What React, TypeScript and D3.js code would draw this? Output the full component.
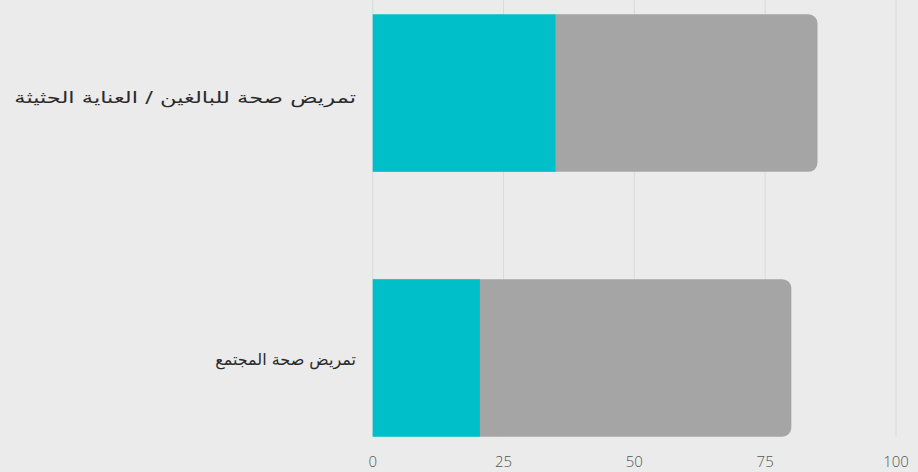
import React, { useLayoutEffect, useRef, useState } from "react";
import * as d3 from "d3";

const categories = ["تمريض صحة للبالغين / العناية الحثيثة", "تمريض صحة المجتمع"];
const firstValues = [35, 20.5];
const secondValues = [50, 59.5];
const xTicks = [0, 25, 50, 75, 100];

// label rendering widths (style only, to match the reference font metrics)
const labelStyleWidths = [342, 141];

const W = 918;
const H = 472;
const margin = { left: 372.7, right: 22, top: 0, bottom: 35 };

function roundedRight(x0: number, x1: number, y0: number, y1: number, r: number) {
  const rr = Math.min(r, (x1 - x0), (y1 - y0) / 2);
  const p = d3.path();
  p.moveTo(x0, y0);
  p.lineTo(x1 - rr, y0);
  p.arcTo(x1, y0, x1, y0 + rr, rr);
  p.lineTo(x1, y1 - rr);
  p.arcTo(x1, y1, x1 - rr, y1, rr);
  p.lineTo(x0, y1);
  p.closePath();
  return p.toString();
}

export default function App() {
  const x = d3.scaleLinear().domain([0, 100]).range([margin.left, 896]);
  const y = d3
    .scaleBand<string>()
    .domain(categories)
    .range([1, 450])
    .paddingInner(0.405)
    .paddingOuter(0.05);
  const bw = y.bandwidth();
  const plotBottom = 437;
  const refs = useRef<(SVGTextElement | null)[]>([]);
  const [scales, setScales] = useState<number[]>(categories.map(() => 1));

  useLayoutEffect(() => {
    const s = categories.map((_, i) => {
      const el = refs.current[i];
      if (!el) return 1;
      const w = el.getComputedTextLength();
      return w > 0 ? labelStyleWidths[i] / w : 1;
    });
    setScales(s);
  }, []);

  return (
    <div style={{ position: "fixed", left: 0, top: 0, width: W, height: H, background: "#ebebeb" }}>
      <svg width={W} height={H} style={{ display: "block" }}>
        <rect x={0} y={0} width={W} height={H} fill="#ebebeb" />
        {xTicks.map((t) => (
          <line
            key={"g" + t}
            x1={x(t)}
            x2={x(t)}
            y1={0}
            y2={plotBottom}
            stroke="#dadada"
            strokeWidth={1}
          />
        ))}
        {categories.map((c, i) => {
          const y0 = y(c)!;
          const y1 = y0 + bw;
          const a = firstValues[i];
          const b = secondValues[i];
          const cy = y0 + bw / 2 + (i === 0 ? 4 : 1);
          return (
            <g key={c}>
              <rect x={x(0)} y={y0} width={x(a) - x(0)} height={bw} fill="#00bfc9" />
              <path d={roundedRight(x(a), x(a + b), y0, y1, 9)} fill="#a5a5a5" />
              <g transform={`translate(356,${cy}) scale(${scales[i]},1)`}>
                <text
                  ref={(el) => {
                    refs.current[i] = el;
                  }}
                  x={0}
                  y={0}
                  dy="0.35em"
                  textAnchor="end"
                  fontFamily="'DejaVu Sans', sans-serif"
                  fontSize={16}
                  fill="#2a2a2a"
                >
                  {c}
                </text>
              </g>
            </g>
          );
        })}
        {xTicks.map((t) => (
          <text
            key={"t" + t}
            x={x(t)}
            y={467}
            textAnchor="middle"
            fontFamily="'Open Sans', sans-serif"
            fontSize={15}
            fontWeight={300}
            fill="#555"
          >
            {t}
          </text>
        ))}
      </svg>
    </div>
  );
}
